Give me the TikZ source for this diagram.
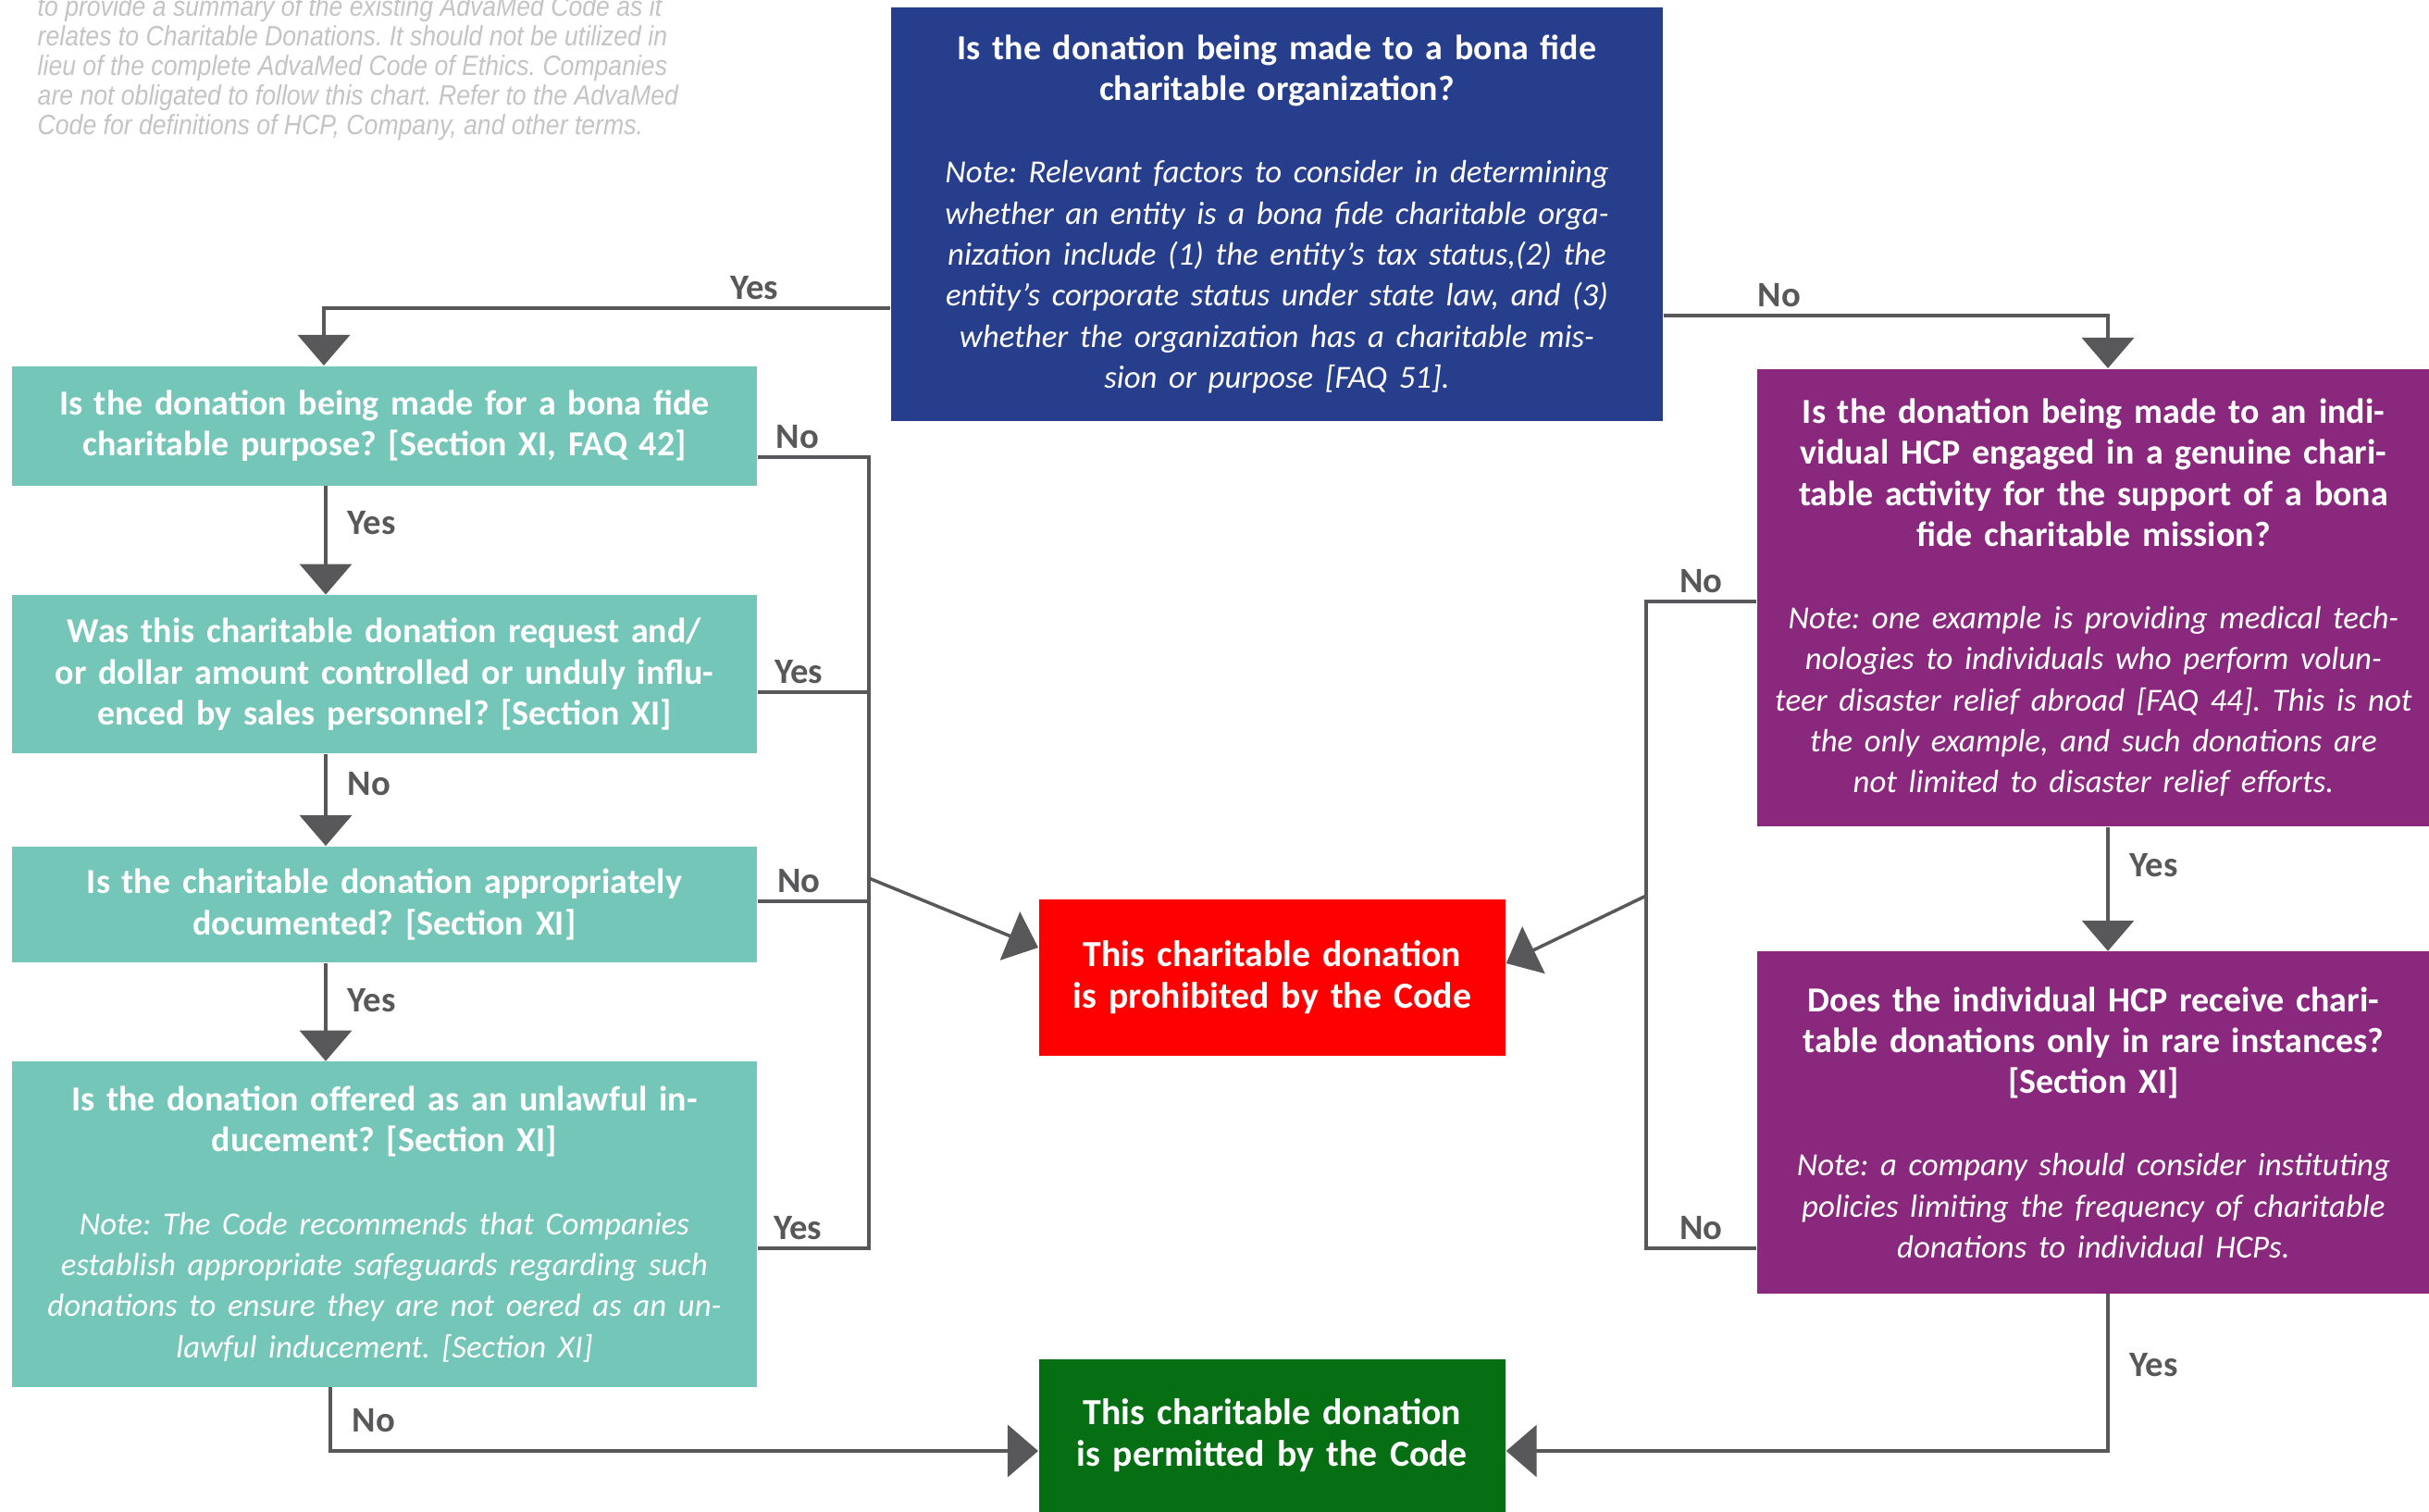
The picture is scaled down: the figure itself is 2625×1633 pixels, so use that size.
\documentclass[tikz,border=0pt]{standalone}
\usepackage{fontspec}
\setmainfont{Carlito}
\newfontfamily\discfont[FakeStretch=0.88]{Liberation Sans}
\definecolor{orgblue}{RGB}{39,62,141}
\definecolor{askteal}{RGB}{116,198,184}
\definecolor{hcppurple}{RGB}{138,40,126}
\definecolor{stopred}{RGB}{255,0,0}
\definecolor{okgreen}{RGB}{6,111,20}
\definecolor{linegray}{RGB}{88,88,90}
\definecolor{disclgray}{RGB}{196,196,196}
\usetikzlibrary{arrows.meta,positioning}
\frenchspacing
\newcommand{\askfont}{\fontsize{10.8}{12.6}\selectfont\bfseries}
\newcommand{\verdictfont}{\fontsize{11.3}{12.6}\selectfont\bfseries}
\newcommand{\remfont}{\fontsize{9.9}{12.6}\selectfont\mdseries\itshape}

\begin{document}
\begin{tikzpicture}[
      x=0.01cm, y=-0.01cm,
      box/.style={inner sep=0pt, anchor=north west, align=center, text=white, font=\askfont},
      disc/.style={anchor=north west, inner sep=0pt, align=left, text=disclgray,
                   font=\discfont\fontsize{8.6}{9.07}\selectfont\itshape},
      wire/.style={line width=1pt, draw=linegray},
      arr/.style={wire, -{Triangle[width=0.56cm,length=0.33cm]}},
      lbl/.style={font=\fontsize{11}{12}\selectfont\bfseries, text=linegray, inner sep=2pt}
    ]
      \path[use as bounding box] (0,0) rectangle (2625,1633);

      \node[disc] (disclaimer) at (40,-5) {to provide a summary of the existing AdvaMed Code as it\\
        relates to Charitable Donations. It should not be utilized in\\
        lieu of the complete AdvaMed Code of Ethics. Companies\\
        are not obligated to follow this chart. Refer to the AdvaMed\\
        Code for definitions of HCP, Company, and other terms.};

      \node[box, fill=orgblue, text width=8.34cm, minimum height=4.47cm] (org) at (962,7)
        {Is the donation being made to a bona fide\\charitable organization?\\[0.45cm]
         {\remfont Note: Relevant factors to consider in determining\\
          whether an entity is a bona fide charitable orga-\\
          nization include (1) the entity's tax status,(2) the\\
          entity's corporate status under state law, and (3)\\
          whether the organization has a charitable mis-\\
          sion or purpose [FAQ 51].}};

      \node[box, fill=askteal, text width=8.05cm, minimum height=1.29cm] (purpose) at (12,395)
        {Is the donation being made for a bona fide\\charitable purpose? [Section XI, FAQ 42]};
      \node[box, fill=askteal, text width=8.05cm, minimum height=1.71cm,
            below=1.17cm of purpose.south west, anchor=north west] (sales)
        {Was this charitable donation request and/\\or dollar amount controlled or unduly influ-\\enced by sales personnel? [Section XI]};
      \node[box, fill=askteal, text width=8.05cm, minimum height=1.25cm,
            below=0.99cm of sales.south west, anchor=north west] (docs)
        {Is the charitable donation appropriately\\documented? [Section XI]};
      \node[box, fill=askteal, text width=8.05cm, minimum height=3.51cm,
            below=1.06cm of docs.south west, anchor=north west] (induce)
        {Is the donation offered as an unlawful in-\\ducement? [Section XI]\\[0.45cm]
         {\remfont Note: The Code recommends that Companies\\
          establish appropriate safeguards regarding such\\
          donations to ensure they are not oered as an un-\\
          lawful inducement. [Section XI]}};

      \node[box, fill=hcppurple, text width=7.27cm, minimum height=4.94cm] (hcp) at (1898,398)
        {Is the donation being made to an indi-\\vidual HCP engaged in a genuine chari-\\table activity for the support of a bona\\fide charitable mission?\\[0.45cm]
         {\remfont Note: one example is providing medical tech-\\
          nologies to individuals who perform volun-\\
          teer disaster relief abroad [FAQ 44]. This is not\\
          the only example, and such donations are\\
          not limited to disaster relief efforts.}};
      \node[box, fill=hcppurple, text width=7.27cm, minimum height=3.69cm,
            below=1.34cm of hcp.south west, anchor=north west] (rare)
        {Does the individual HCP receive chari-\\table donations only in rare instances?\\{}[Section XI]\\[0.45cm]
         {\remfont Note: a company should consider instituting\\
          policies limiting the frequency of charitable\\
          donations to individual HCPs.}};

      \node[box, fill=stopred, text width=5.04cm, minimum height=1.69cm, font=\verdictfont] (prohib) at (1122,971)
        {This charitable donation\\is prohibited by the Code};
      \node[box, fill=okgreen, text width=5.04cm, minimum height=1.65cm, font=\verdictfont] (permit) at (1122,1468)
        {This charitable donation\\is permitted by the Code};

      \coordinate (lbus) at (939,949);
      \coordinate (rbus) at (1779,968);

      \draw[arr] (org.west |- 0,333) -| node[lbl, above, pos=0.12] {Yes} (purpose.north -| 350,0);
      \draw[arr] (org.east |- 0,341) -| node[lbl, above, pos=0.13] {No} (hcp.north -| 2278,0);

      \draw[arr] (purpose.south -| 352,0) -- node[lbl, right=0.15cm, pos=0.34] {Yes} (sales.north -| 352,0);
      \draw[arr] (sales.south -| 352,0) -- node[lbl, right=0.15cm, pos=0.32] {No} (docs.north -| 352,0);
      \draw[arr] (docs.south -| 352,0) -- node[lbl, right=0.15cm, pos=0.38] {Yes} (induce.north -| 352,0);
      \draw[arr] (induce.south -| 357,0) |- node[lbl, right=0.15cm, pos=0.26] {No} (permit.west |- 0,1568);

      \draw[wire] (purpose.east |- 0,494) -| node[lbl, above, pos=0.18] {No} (lbus)
        |- node[lbl, above, pos=0.82] {Yes} (induce.east |- 0,1349);
      \draw[wire] (sales.east |- 0,748) -- node[lbl, above, pos=0.37] {Yes} (lbus |- 0,748);
      \draw[wire] (docs.east |- 0,974) -- node[lbl, above, pos=0.37] {No} (lbus |- 0,974);
      \draw[arr] (lbus) -- (prohib.west |- 0,1024);

      \draw[arr] (hcp.south -| 2278,0) -- node[lbl, right=0.15cm, pos=0.31] {Yes} (rare.north -| 2278,0);
      \draw[arr] (rare.south -| 2278,0) |- node[lbl, right=0.15cm, pos=0.225] {Yes} (permit.east |- 0,1568);
      \draw[wire] (hcp.west |- 0,650) -| node[lbl, above, pos=0.25] {No} (rbus)
        |- node[lbl, above, pos=0.75] {No} (rare.west |- 0,1349);
      \draw[arr] (rbus) -- (prohib.east |- 0,1041);
    \end{tikzpicture}
\end{document}
